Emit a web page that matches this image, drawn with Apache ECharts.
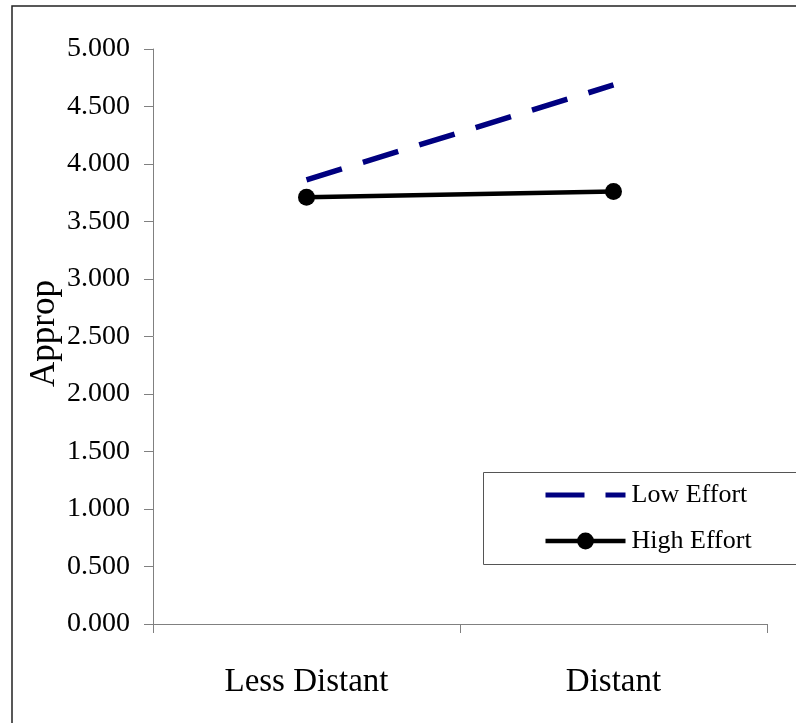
<!DOCTYPE html>
<html>
<head>
<meta charset="utf-8">
<script src="https://cdn.jsdelivr.net/npm/echarts@6/dist/echarts.min.js"></script>
<style>
html, body { margin: 0; padding: 0; background: #fff; }
#main { width: 796px; height: 723px; }
</style>
</head>
<body>
<div id="main"></div>
<script>
var categories = ['Less Distant', 'Distant'];
var lowEffort = [3.863, 4.687];
var highEffort = [3.71, 3.76];
var yTicks = { min: 0, max: 5, interval: 0.5 };

var chart = echarts.init(document.getElementById('main'));
var serif = 'Liberation Serif';

var option = {
    backgroundColor: '#fff',
    animation: false,
    grid: { left: 153, right: 29, top: 49, bottom: 99 },
    xAxis: {
        type: 'category',
        data: categories,
        boundaryGap: true,
        axisLine: { lineStyle: { color: '#808080', width: 1 } },
        axisTick: { show: true, length: 9, lineStyle: { color: '#808080' } },
        axisLabel: { color: '#000', fontFamily: serif, fontSize: 33, margin: 42 }
    },
    yAxis: {
        type: 'value',
        min: yTicks.min,
        max: yTicks.max,
        interval: yTicks.interval,
        name: 'Approp',
        nameLocation: 'middle',
        nameGap: 91,
        nameMoveOverlap: false,
        nameTextStyle: { color: '#000', fontFamily: serif, fontSize: 35, padding: [0, 0, 0, 6] },
        splitLine: { show: false },
        axisLine: { show: true, lineStyle: { color: '#808080', width: 1 } },
        axisTick: { show: true, length: 9, lineStyle: { color: '#808080' } },
        axisLabel: {
            color: '#000', fontFamily: serif, fontSize: 28, margin: 23,
            formatter: function (v) { return v.toFixed(3); }
        }
    },
    legend: {
        orient: 'vertical',
        left: 538,
        top: 477,
        itemWidth: 80,
        itemHeight: 21,
        itemGap: 20,
        textStyle: { color: '#000', fontFamily: serif, fontSize: 26, padding: [0, 0, 0, 1] },
        data: [
            {
                name: 'Low Effort',
                itemStyle: { opacity: 0 },
                lineStyle: { color: '#000080', width: 5, type: [39, 21] }
            },
            {
                name: 'High Effort',
                lineStyle: { color: '#000', width: 4.5 }
            }
        ]
    },
    graphic: [
        {
            type: 'rect',
            shape: { x: 12, y: 6, width: 900, height: 900 },
            style: { fill: 'none', stroke: '#222', lineWidth: 1.5 },
            silent: true
        },
        {
            type: 'rect',
            shape: { x: 483.5, y: 472.5, width: 400, height: 92 },
            style: { fill: 'none', stroke: '#555', lineWidth: 1 },
            silent: true
        }
    ],
    series: [
        {
            name: 'Low Effort',
            type: 'line',
            data: lowEffort,
            symbol: 'none',
            color: '#000080',
            lineStyle: { color: '#000080', width: 5.5, type: [37, 22], cap: 'butt' }
        },
        {
            name: 'High Effort',
            type: 'line',
            data: highEffort,
            symbol: 'circle',
            symbolSize: 17,
            color: '#000',
            itemStyle: { color: '#000' },
            lineStyle: { color: '#000', width: 4.5 }
        }
    ]
};

chart.setOption(option);
</script>
</body>
</html>
